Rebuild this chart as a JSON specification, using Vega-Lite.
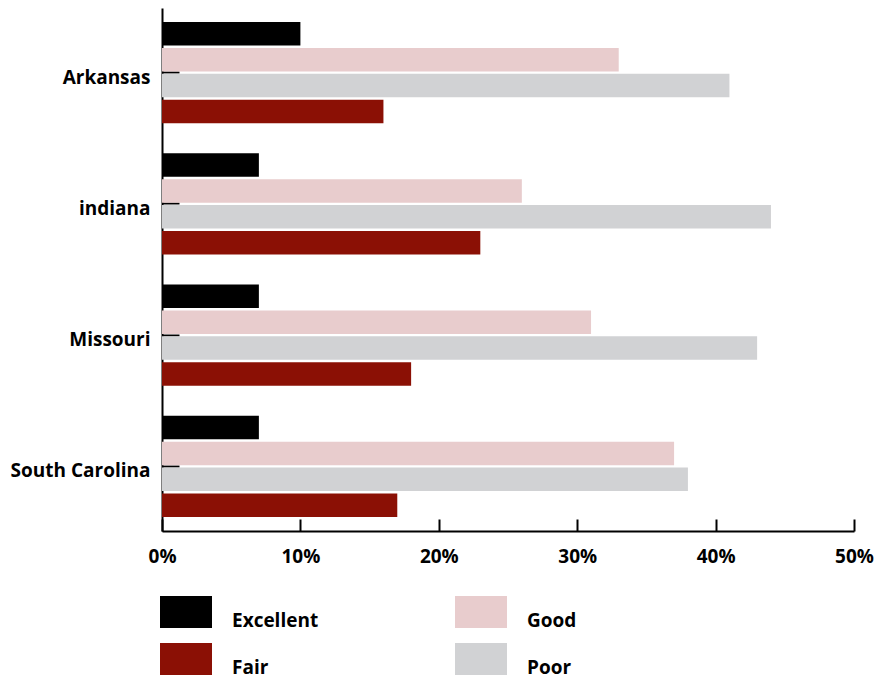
{
  "$schema": "https://vega.github.io/schema/vega-lite/v6.json",
  "width": 692,
  "height": 523,
  "autosize": {"type": "none"},
  "padding": {"left": 162, "top": 8, "right": 24, "bottom": 152},
  "background": "white",
  "config": {"view": {"stroke": null}, "font": "Open Sans"},
  "data": {
    "values": [
      {"state": "Arkansas", "rating": "Excellent", "value": 10},
      {"state": "Arkansas", "rating": "Good", "value": 33},
      {"state": "Arkansas", "rating": "Poor", "value": 41},
      {"state": "Arkansas", "rating": "Fair", "value": 16},
      {"state": "indiana", "rating": "Excellent", "value": 7},
      {"state": "indiana", "rating": "Good", "value": 26},
      {"state": "indiana", "rating": "Poor", "value": 44},
      {"state": "indiana", "rating": "Fair", "value": 23},
      {"state": "Missouri", "rating": "Excellent", "value": 7},
      {"state": "Missouri", "rating": "Good", "value": 31},
      {"state": "Missouri", "rating": "Poor", "value": 43},
      {"state": "Missouri", "rating": "Fair", "value": 18},
      {"state": "South Carolina", "rating": "Excellent", "value": 7},
      {"state": "South Carolina", "rating": "Good", "value": 37},
      {"state": "South Carolina", "rating": "Poor", "value": 38},
      {"state": "South Carolina", "rating": "Fair", "value": 17}
    ]
  },
  "mark": {"type": "bar"},
  "encoding": {
    "y": {
      "field": "state",
      "type": "nominal",
      "sort": ["Arkansas", "indiana", "Missouri", "South Carolina"],
      "scale": {"paddingInner": 0.229, "paddingOuter": 0.107},
      "axis": {
        "title": null,
        "domainColor": "black",
        "domainWidth": 2,
        "tickColor": "black",
        "tickWidth": 2,
        "tickSize": -17,
        "labelFont": "Open Sans",
        "labelFontWeight": "bold",
        "labelFontSize": 19,
        "labelColor": "black",
        "labelPadding": 29,
        "labelOffset": 5
      }
    },
    "yOffset": {
      "field": "rating",
      "sort": ["Excellent", "Good", "Poor", "Fair"],
      "scale": {"paddingInner": 0.09, "paddingOuter": 0}
    },
    "x": {
      "field": "value",
      "type": "quantitative",
      "scale": {"domain": [0, 50], "nice": false},
      "axis": {
        "title": null,
        "grid": false,
        "values": [0, 10, 20, 30, 40, 50],
        "labelExpr": "datum.value + '%'",
        "domainColor": "black",
        "domainWidth": 2,
        "tickColor": "black",
        "tickWidth": 2,
        "tickSize": -12,
        "labelFont": "Open Sans",
        "labelFontWeight": "bold",
        "labelFontSize": 19,
        "labelColor": "black",
        "labelPadding": 28,
        "labelFlush": false
      }
    },
    "color": {
      "field": "rating",
      "type": "nominal",
      "scale": {
        "domain": ["Excellent", "Good", "Fair", "Poor"],
        "range": ["#000000", "#e8cccd", "#8b1005", "#d1d2d4"]
      },
      "legend": {
        "orient": "none",
        "legendX": -2,
        "legendY": 578,
        "direction": "horizontal",
        "columns": 2,
        "title": null,
        "padding": 0,
        "symbolType": "M-1,-0.615H1V0.615H-1Z",
        "symbolSize": 2704,
        "symbolStrokeWidth": 0,
        "symbolOpacity": 1,
        "labelFont": "Open Sans",
        "labelFontSize": 19,
        "labelFontWeight": "bold",
        "labelColor": "black",
        "labelOffset": 20,
        "labelBaseline": "top",
        "columnPadding": 136,
        "rowPadding": 2
      }
    }
  }
}
